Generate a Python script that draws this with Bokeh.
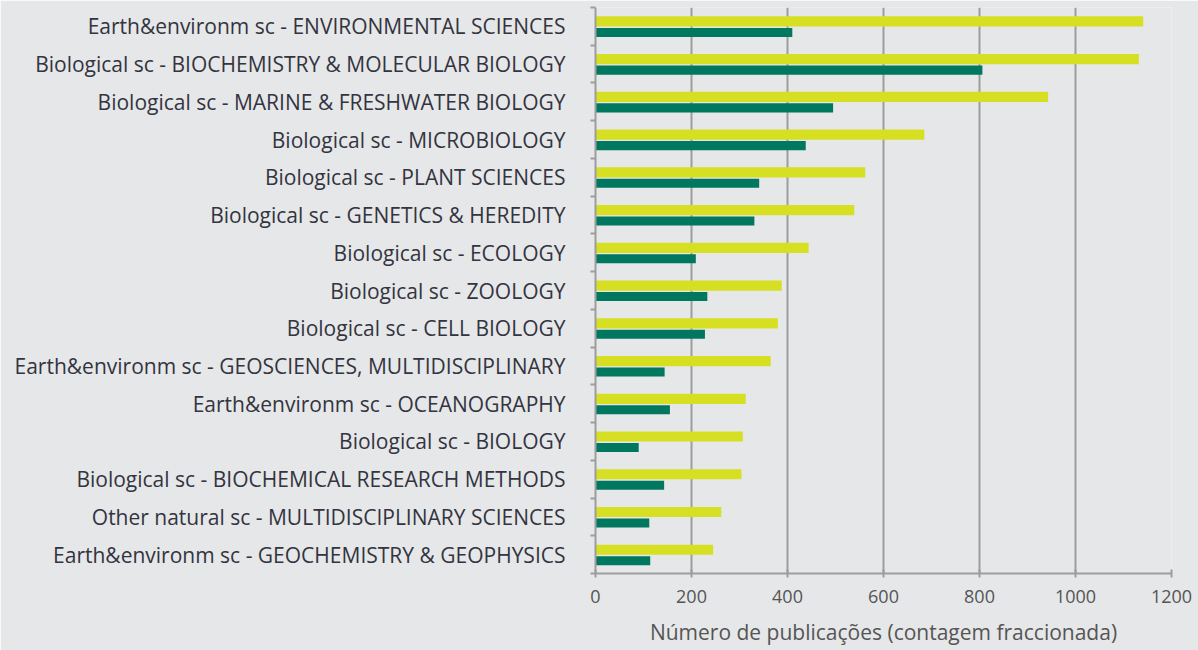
from bokeh.plotting import figure
from bokeh.models import ColumnDataSource, Range1d, FixedTicker
from bokeh.transform import dodge
from bokeh.embed import file_html
from bokeh.resources import INLINE

categories = [
    "Earth&environm sc - ENVIRONMENTAL SCIENCES",
    "Biological sc - BIOCHEMISTRY & MOLECULAR BIOLOGY",
    "Biological sc - MARINE & FRESHWATER BIOLOGY",
    "Biological sc - MICROBIOLOGY",
    "Biological sc - PLANT SCIENCES",
    "Biological sc - GENETICS & HEREDITY",
    "Biological sc - ECOLOGY",
    "Biological sc - ZOOLOGY",
    "Biological sc - CELL BIOLOGY",
    "Earth&environm sc - GEOSCIENCES, MULTIDISCIPLINARY",
    "Earth&environm sc - OCEANOGRAPHY",
    "Biological sc - BIOLOGY",
    "Biological sc - BIOCHEMICAL RESEARCH METHODS",
    "Other natural sc - MULTIDISCIPLINARY SCIENCES",
    "Earth&environm sc - GEOCHEMISTRY & GEOPHYSICS",
]
series_a = [1141, 1132, 943, 685, 562, 539, 444, 388, 380, 365, 313, 307, 304, 262, 245]
series_b = [410, 806, 495, 438, 341, 331, 209, 233, 228, 144, 155, 90, 143, 112, 114]
x_ticks = [0, 200, 400, 600, 800, 1000, 1200]
x_title = "Número de publicações (contagem fraccionada)"

BG = "#e6e7e8"
YELLOW = "#d7df23"
GREEN = "#00775f"
GRID = "#9d9d9d"
FONT = "Open Sans"

n = len(categories)
centers = [i + 0.5 for i in range(n)]
src = ColumnDataSource(dict(y=centers, a=series_a, b=series_b, cat=categories))

p = figure(width=1198, height=650, output_backend="svg", toolbar_location=None,
           x_range=Range1d(0, 1200), y_range=Range1d(n, 0),
           min_border_left=595, min_border_right=27, min_border_top=7,
           min_border_bottom=77)
p.background_fill_color = BG
p.border_fill_color = BG
p.outline_line_color = None

p.hbar(y=dodge("y", -0.13), left=0, right="a", height=0.27, source=src,
       fill_color=YELLOW, line_color=None)
p.hbar(y=dodge("y", 0.16), left=0, right="b", height=0.24, source=src,
       fill_color=GREEN, line_color=None)

# grids
p.ygrid.visible = False
p.xgrid.ticker = FixedTicker(ticks=x_ticks[1:])
p.xgrid.grid_line_color = GRID
p.xgrid.grid_line_width = 2

# x axis
xa = p.xaxis[0]
xa.ticker = FixedTicker(ticks=x_ticks)
xa.axis_line_color = GRID
xa.axis_line_width = 2
xa.major_tick_line_color = GRID
xa.major_tick_line_width = 2
xa.major_tick_in = 4
xa.major_tick_out = 4
xa.minor_tick_line_color = None
xa.major_label_text_font = FONT
xa.major_label_text_font_size = "18px"
xa.major_label_text_color = "#555555"
xa.major_label_standoff = 12
xa.axis_label = x_title
xa.axis_label_text_font = FONT
xa.axis_label_text_font_size = "21px"
xa.axis_label_text_font_style = "normal"
xa.axis_label_text_color = "#555555"
xa.axis_label_standoff = 12

# y axis
ya = p.yaxis[0]
ya.ticker = FixedTicker(ticks=centers, minor_ticks=list(range(n + 1)))
ya.major_label_overrides = {c: lab for c, lab in zip(centers, categories)}
ya.axis_line_color = GRID
ya.axis_line_width = 2
ya.major_tick_line_color = None
ya.major_tick_in = 0
ya.major_tick_out = 0
ya.minor_tick_line_color = GRID
ya.minor_tick_line_width = 2
ya.minor_tick_in = 0
ya.minor_tick_out = 5
ya.major_label_text_font = FONT
ya.major_label_text_font_size = "21px"
ya.major_label_text_color = "#33343f"
ya.major_label_standoff = 25

open("out.html", "w").write(file_html(p, INLINE))
